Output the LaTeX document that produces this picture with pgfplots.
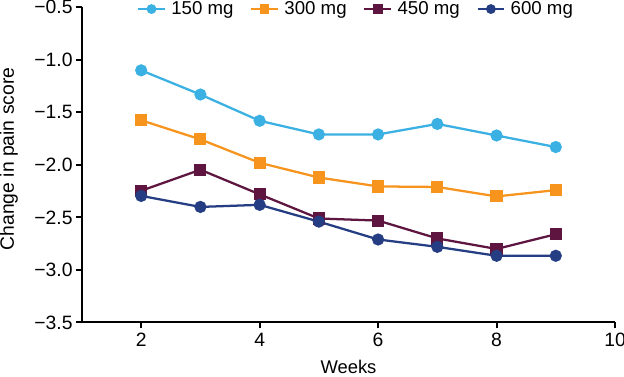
\documentclass[border=0pt]{standalone}
\usepackage{pgfplots}
\pgfplotsset{compat=1.18}
\usepackage{fontspec}
\setmainfont{Liberation Sans}
\definecolor{c150}{HTML}{3AB1E2}
\definecolor{c300}{HTML}{F7941E}
\definecolor{c450}{HTML}{5E1641}
\definecolor{c600}{HTML}{243D83}
\begin{document}
\begin{tikzpicture}
\begin{axis}[
  scale only axis, width=400pt, height=236.5pt,
  xmin=1, xmax=10, ymin=-3.5, ymax=-0.5,
  axis x line*=bottom, axis y line*=left,
  axis line style={black, line width=1.5pt},
  tick align=outside, major tick length=4.5pt,
  tick style={black, line width=1.5pt},
  xtick={2,4,6,8,10},
  ytick={-3.5,-3,-2.5,-2,-1.5,-1,-0.5},
  yticklabels={−3.5,−3.0,−2.5,−2.0,−1.5,−1.0,−0.5},
  xticklabels={2,4,6,8,10},
  every tick label/.append style={font=\fontsize{14.5}{17}\selectfont},
  yticklabel style={xshift=1pt},
  xlabel={Weeks}, ylabel={Change in pain score},
  xlabel style={font=\fontsize{13.8}{16}\selectfont, at={(axis description cs:0.5,0)}, anchor=base, yshift=-38.3pt},
  ylabel style={font=\fontsize{14.5}{17}\selectfont, at={([xshift=-51pt]axis description cs:0,0.519)}, anchor=base},
  clip=false,
  legend columns=4,
  legend image code/.code={\draw[mark repeat=2,mark phase=2,#1,mark size=2.8pt] plot coordinates {(0pt,0pt) (10pt,0pt) (20pt,0pt)};},
  legend style={draw=none, fill=none, font=\fontsize{14}{16}\selectfont,
    at={(axis description cs:0.5147,0.9945)}, anchor=center,
    /tikz/every odd column/.append style={column sep=2pt},
    /tikz/every even column/.append style={column sep=10.5pt}},
  every axis plot/.append style={line width=1.7pt},
]
\addplot[color=c150, mark=*, mark size=3.7pt] coordinates {
(2,-1.10) (3,-1.33) (4,-1.58) (5,-1.71) (6,-1.71) (7,-1.61) (8,-1.72) (9,-1.83)};
\addlegendentry{150 mg}
\addplot[color=c300, mark=square*, mark size=3.7pt] coordinates {
(2,-1.575) (3,-1.757) (4,-1.98) (5,-2.12) (6,-2.205) (7,-2.21) (8,-2.30) (9,-2.24)};
\addlegendentry{300 mg}
\addplot[color=c450, mark=square*, mark size=3.7pt] coordinates {
(2,-2.246) (3,-2.046) (4,-2.28) (5,-2.51) (6,-2.53) (7,-2.70) (8,-2.80) (9,-2.66)};
\addlegendentry{450 mg}
\addplot[color=c600, mark=*, mark size=3.7pt] coordinates {
(2,-2.295) (3,-2.40) (4,-2.38) (5,-2.54) (6,-2.71) (7,-2.78) (8,-2.865) (9,-2.865)};
\addlegendentry{600 mg}
\end{axis}
\pgfresetboundingbox
\path[use as bounding box] (-61.5pt,-40.7pt) rectangle (406.75pt,242pt);
\end{tikzpicture}
\end{document}
